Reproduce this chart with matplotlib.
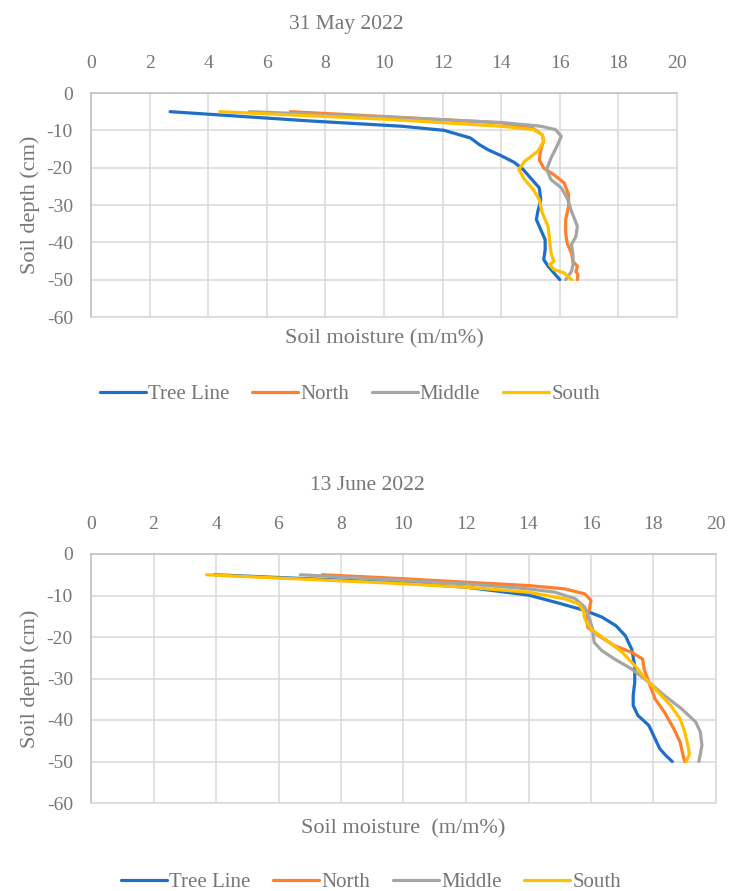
import matplotlib
matplotlib.use("Agg")
import matplotlib.pyplot as plt

# series names and colours
names = ["Tree Line", "North", "Middle", "South"]
colors = ["#1F6FC6", "#FF7F2A", "#A5A5A5", "#FFC000"]

# ---- 31 May 2022 (moisture m/m%, depth cm) ----
may_tree_x = [2.7, 7.5, 10.6, 12.05, 12.95, 13.25, 13.55, 14.0, 14.45, 14.75, 15.05, 15.3,
              15.35, 15.25, 15.2, 15.35, 15.5, 15.5, 15.45, 15.6, 15.8, 16.0]
may_tree_y = [-5, -7.5, -8.9, -10, -12.05, -13.8, -15.2, -16.8, -18.6, -20.5, -23.2, -25.4,
              -28.6, -31.7, -33.9, -36.6, -39.3, -42, -44.6, -46.4, -48.2, -50]
may_north_x = [6.8, 10.5, 14.0, 15.1, 15.4, 15.45, 15.35, 15.3, 15.45, 15.8, 16.15, 16.3,
               16.3, 16.2, 16.2, 16.25, 16.4, 16.45, 16.6, 16.55, 16.62, 16.6]
may_north_y = [-5, -6.5, -8, -9.6, -11.2, -12.9, -15.2, -17.9, -20.1, -21.9, -24.1, -27.2,
               -30.4, -33.9, -37.5, -40.2, -42.9, -45.1, -46.4, -47.8, -48.7, -50]
may_middle_x = [5.4, 10.0, 14.0, 15.35, 15.85, 16.05, 15.9, 15.7, 15.55, 15.7, 16.05, 16.25,
                16.4, 16.6, 16.55, 16.4, 16.45, 16.45, 16.4, 16.2]
may_middle_y = [-5, -6.4, -7.9, -8.9, -9.8, -11.6, -14.3, -17.4, -20.5, -23.2, -25.4, -28.1,
                -31.7, -35.7, -38.4, -40.6, -43.3, -46, -47.8, -50]
may_south_x = [4.4, 10.0, 14.0, 15.1, 15.4, 15.45, 15.25, 14.8, 14.6, 14.8, 15.1, 15.3,
               15.4, 15.6, 15.65, 15.7, 15.8, 15.65, 15.8, 16.15, 16.4]
may_south_y = [-5, -7.0, -8.9, -9.8, -11.2, -12.9, -15.6, -18.3, -20.5, -23.2, -25.9, -28.6,
               -32.1, -35.7, -39.3, -42.9, -45.1, -46, -47.3, -48.2, -50]

# ---- 13 June 2022 ----
jun_tree_x = [3.95, 9.85, 12.0, 14.0, 14.95, 15.8, 16.35, 16.8, 17.1, 17.3, 17.4, 17.4,
              17.35, 17.35, 17.5, 17.85, 18.05, 18.2, 18.4, 18.6]
jun_tree_y = [-5, -6.9, -8.0, -9.9, -11.8, -13.6, -15.2, -17.3, -19.7, -22.9, -26.9, -30.9,
              -34.1, -36.5, -38.9, -41.3, -44.5, -46.9, -48.6, -50]
jun_north_x = [7.4, 9.85, 12.0, 14.0, 15.15, 15.8, 16.0, 15.95, 15.85, 15.9, 16.25, 16.75,
               17.3, 17.65, 17.7, 17.85, 18.05, 18.35, 18.65, 18.85, 18.95, 19.0]
jun_north_y = [-5, -5.9, -6.8, -7.6, -8.4, -9.6, -11.2, -13.2, -15.6, -17.7, -19.7, -22.1,
               -23.7, -25.3, -27.7, -30.9, -34.9, -38.1, -42.1, -45.3, -48.6, -50]
jun_middle_x = [6.7, 9.85, 12.0, 14.0, 14.85, 15.5, 15.8, 15.95, 16.05, 16.1, 16.35, 16.75,
                17.3, 17.85, 18.35, 18.9, 19.35, 19.5, 19.55, 19.5, 19.45]
jun_middle_y = [-5, -6.3, -7.2, -8.4, -9.2, -10.8, -12.8, -15.6, -18.1, -21.3, -23.3, -25.3,
                -27.7, -30.9, -34.1, -37.3, -40.5, -42.9, -46.1, -48.2, -50]
jun_south_x = [3.7, 9.85, 12.0, 14.0, 15.15, 15.6, 15.75, 15.8, 16.0, 16.45, 17.0, 17.4,
               17.75, 18.15, 18.55, 18.85, 19.0, 19.1, 19.15, 19.05]
jun_south_y = [-5, -7.1, -8.0, -9.2, -10.8, -12.0, -13.6, -15.6, -18.1, -20.5, -23.7, -26.9,
               -30.1, -33.3, -36.5, -39.7, -42.9, -46.1, -48.2, -50]

x_ticks = [0, 2, 4, 6, 8, 10, 12, 14, 16, 18, 20]
y_ticks = [0, -10, -20, -30, -40, -50, -60]

TXT = "#767676"
plt.rcParams["font.family"] = ["Liberation Serif", "DejaVu Serif"]
plt.rcParams["axes.unicode_minus"] = False

W, H = 729, 891
fig = plt.figure(figsize=(W / 100, H / 100), dpi=100)


def px_axes(left, top, right, bottom):
    return fig.add_axes([left / W, 1 - bottom / H, (right - left) / W, (bottom - top) / H])


def draw_panel(ax, series, xlabel, xlabelpad):
    lines = []
    for (xs, ys), c, n in zip(series, colors, names):
        (ln,) = ax.plot(xs, ys, color=c, lw=2.3, label=n,
                        solid_joinstyle="round", solid_capstyle="round")
        lines.append(ln)
    ax.set_xlim(0, 20)
    ax.set_ylim(-60, 0)
    ax.set_xticks(x_ticks)
    ax.set_yticks(y_ticks)
    ax.xaxis.tick_top()
    ax.xaxis.set_label_position("bottom")
    ax.tick_params(axis="x", length=0, pad=15, colors=TXT, labelsize=14)
    ax.tick_params(axis="y", length=0, pad=13, colors=TXT, labelsize=14)
    ax.grid(True, color="#D9D9D9", lw=1.1)
    ax.set_axisbelow(True)
    for s in ["top", "left"]:
        ax.spines[s].set_color("#BFBFBF")
        ax.spines[s].set_linewidth(1.1)
    for s in ["right", "bottom"]:
        ax.spines[s].set_color("#D9D9D9")
        ax.spines[s].set_linewidth(1.1)
    ax.set_xlabel(xlabel, color=TXT, fontsize=16, labelpad=xlabelpad)
    ax.set_ylabel("Soil depth (cm)", color=TXT, fontsize=16, labelpad=5)
    return lines


ax1 = px_axes(91, 93, 677, 317)
l1 = draw_panel(ax1, [(may_tree_x, may_tree_y), (may_north_x, may_north_y),
                      (may_middle_x, may_middle_y), (may_south_x, may_south_y)],
                "Soil moisture (m/m%)", 9)
fig.text(346 / W, 1 - 25 / H, "31 May 2022", ha="center", va="center", color=TXT, fontsize=15.5)
fig.legend(l1, names, loc="center", bbox_to_anchor=(350 / W, 1 - 394 / H), ncol=4,
           frameon=False, handlelength=2.2, handletextpad=0.1, columnspacing=1.1,
           labelcolor=TXT, fontsize=15)

ax2 = px_axes(91, 554, 716, 803)
l2 = draw_panel(ax2, [(jun_tree_x, jun_tree_y), (jun_north_x, jun_north_y),
                      (jun_middle_x, jun_middle_y), (jun_south_x, jun_south_y)],
                "Soil moisture  (m/m%)", 11.5)
fig.text(367 / W, 1 - 486 / H, "13 June 2022", ha="center", va="center", color=TXT, fontsize=15.5)
fig.legend(l2, names, loc="center", bbox_to_anchor=(371 / W, 1 - 882 / H), ncol=4,
           frameon=False, handlelength=2.2, handletextpad=0.1, columnspacing=1.1,
           labelcolor=TXT, fontsize=15)

fig.savefig("out.png", dpi=100)
